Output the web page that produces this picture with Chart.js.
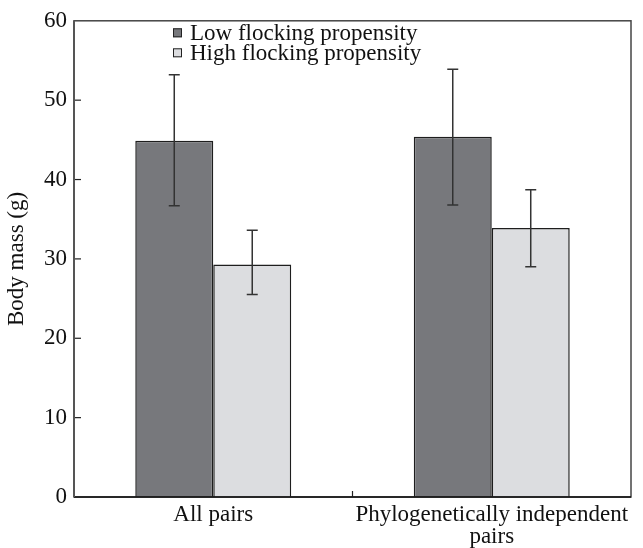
<!DOCTYPE html>
<html>
<head>
<meta charset="utf-8">
<script src="https://cdn.jsdelivr.net/npm/chart.js@4"></script>
<style>
  html, body { margin: 0; padding: 0; background: #fff; }
  #wrap { width: 643px; height: 548px; }
</style>
</head>
<body>
<div id="wrap"><canvas id="massChart"></canvas></div>
<script>
// Data
const categories = ['All pairs', ['Phylogenetically independent', 'pairs']];
const seriesNames = ['Low flocking propensity', 'High flocking propensity'];
const lowMass = [44.9, 45.4];
const highMass = [29.3, 33.9];
const lowErrTop = [53.2, 53.9];
const lowErrBottom = [36.7, 36.8];
const highErrTop = [33.6, 38.7];
const highErrBottom = [25.5, 29.0];
const yTicks = [0, 10, 20, 30, 40, 50, 60];

const FONT = '"Liberation Serif", "Times New Roman", serif';

// error bars, inner ticks, frame and legend
const decorPlugin = {
  id: 'decor',
  afterDatasetsDraw(chart) {
    const { ctx, chartArea: a, scales: { x, y } } = chart;
    const errs = [[lowErrTop, lowErrBottom], [highErrTop, highErrBottom]];
    ctx.save();
    ctx.strokeStyle = '#333';
    ctx.lineWidth = 1.5;
    errs.forEach(([top, bottom], di) => {
      chart.getDatasetMeta(di).data.forEach((bar, i) => {
        const yt = y.getPixelForValue(top[i]);
        const yb = y.getPixelForValue(bottom[i]);
        ctx.beginPath();
        ctx.moveTo(bar.x, yt); ctx.lineTo(bar.x, yb);
        ctx.moveTo(bar.x - 5.5, yt); ctx.lineTo(bar.x + 5.5, yt);
        ctx.moveTo(bar.x - 5.5, yb); ctx.lineTo(bar.x + 5.5, yb);
        ctx.stroke();
      });
    });

    // inward y ticks
    ctx.strokeStyle = '#222';
    ctx.lineWidth = 1.2;
    yTicks.slice(1, -1).forEach(v => {
      const py = y.getPixelForValue(v);
      ctx.beginPath();
      ctx.moveTo(a.left, py); ctx.lineTo(a.left + 7, py);
      ctx.stroke();
    });
    // inward x tick between the categories
    const mid = (x.getPixelForValue(0) + x.getPixelForValue(1)) / 2;
    ctx.beginPath();
    ctx.moveTo(mid, a.bottom); ctx.lineTo(mid, a.bottom - 6);
    ctx.stroke();

    // frame
    ctx.strokeStyle = '#444';
    ctx.lineWidth = 1.5;
    ctx.strokeRect(a.left, a.top, a.right - a.left, a.bottom - a.top);
    ctx.strokeStyle = '#111';
    ctx.beginPath();
    ctx.moveTo(a.left, a.bottom); ctx.lineTo(a.right, a.bottom);
    ctx.stroke();
    ctx.strokeStyle = '#555';
    ctx.lineWidth = 2;
    ctx.beginPath();
    ctx.moveTo(a.left, a.top); ctx.lineTo(a.left, a.bottom);
    ctx.stroke();

    // legend
    ctx.font = '23px ' + FONT;
    ctx.textBaseline = 'middle';
    chart.data.datasets.forEach((ds, i) => {
      const ly = a.top + 12 + i * 20;
      ctx.fillStyle = ds.backgroundColor;
      ctx.fillRect(173, ly - 4.5, 9, 9);
      ctx.strokeStyle = '#222';
      ctx.lineWidth = 1;
      ctx.strokeRect(173.5, ly - 4, 8, 8);
      ctx.fillStyle = '#111';
      ctx.fillText(ds.label, 190, ly + 1);
    });
    ctx.restore();
  }
};

new Chart(document.getElementById('massChart'), {
  type: 'bar',
  data: {
    labels: categories,
    datasets: [
      { label: seriesNames[0], data: lowMass, backgroundColor: '#77787c', borderColor: '#1e1e1e', borderWidth: 1.5 },
      { label: seriesNames[1], data: highMass, backgroundColor: '#dcdde0', borderColor: '#1e1e1e', borderWidth: 1.5 }
    ]
  },
  options: {
    responsive: true,
    maintainAspectRatio: false,
    animation: false,
    layout: { padding: { top: 19, right: 12, left: 0, bottom: 0 } },
    datasets: { bar: { barPercentage: 1, categoryPercentage: 0.56 } },
    plugins: { legend: { display: false }, tooltip: { enabled: false } },
    scales: {
      x: {
        grid: { display: false, drawTicks: false },
        border: { display: false },
        ticks: {
          color: '#111', padding: 7, autoSkip: false, maxRotation: 0, minRotation: 0,
          font: { family: FONT, size: 23, lineHeight: 0.95 }
        },
        afterFit: s => { s.height = 51; }
      },
      y: {
        min: 0,
        max: 60,
        afterBuildTicks: s => { s.ticks = yTicks.map(v => ({ value: v })); },
        grid: { display: false, drawTicks: false },
        border: { display: false },
        ticks: { color: '#111', padding: 7, font: { family: FONT, size: 23 } },
        title: { display: true, text: 'Body mass (g)', color: '#111', padding: { top: 3, bottom: 0 }, font: { family: FONT, size: 23 } },
        afterFit: s => { s.width = 74; }
      }
    }
  },
  plugins: [decorPlugin]
});
</script>
</body>
</html>
